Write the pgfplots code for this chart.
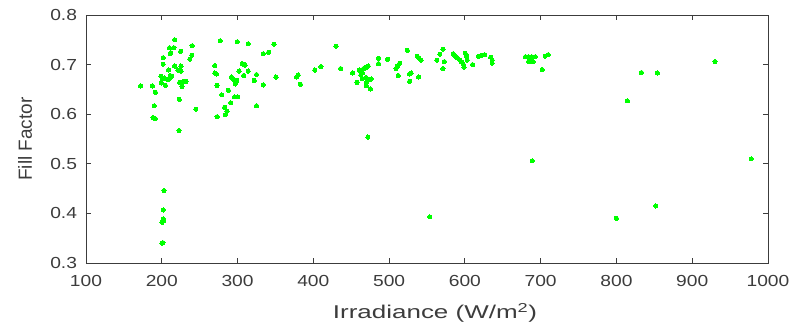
\documentclass[border=0pt]{standalone}
\usepackage{fontspec}
\setmainfont{Liberation Sans}[FakeStretch=1.2]
\newfontfamily\plainsans{Liberation Sans}
\usepackage{graphicx}
\usepackage{pgfplots}
\pgfplotsset{compat=1.18}
\definecolor{axgray}{RGB}{60,60,60}
\definecolor{dotgreen}{RGB}{0,255,0}
\begin{document}
\begin{tikzpicture}
\begin{axis}[
  scale only axis,
  width=682bp, height=248bp,
  xmin=100, xmax=1000, ymin=0.3, ymax=0.8,
  xtick={100,200,...,1000},
  ytick={0.3,0.4,0.5,0.6,0.7,0.8},
  yticklabels={0.3,0.4,0.5,0.6,0.7,0.8},
  /pgf/number format/1000 sep={},
  tick align=inside,
  major tick length=5bp,
  axis line style={axgray, line width=0.8bp},
  every tick/.style={axgray, line width=0.8bp},
  tick label style={font=\fontsize{16bp}{18bp}\selectfont, text=axgray},
  xticklabel style={yshift=-8.5bp},
  yticklabel style={xshift=-5.5bp},
  /pgf/number format/assume math mode=true,
  every axis x label/.style={at={(rel axis cs:0.5,0)}, anchor=center, yshift=-50bp, xshift=8bp,
    font=\fontsize{18.5bp}{21bp}\selectfont, text=axgray},
  every axis y label/.style={at={(rel axis cs:0,0.5)}, anchor=center, rotate=90, yshift=61bp,
    font=\plainsans\fontsize{19bp}{21bp}\selectfont, text=axgray},
  xlabel={\scalebox{1.17}[1]{Irradiance (W/m\textsuperscript{2})}},
  ylabel={Fill Factor},
]
\addplot[only marks, mark=*, mark size=2.1bp, mark options={fill=dotgreen, draw=dotgreen, line width=0pt}] coordinates {
(172,0.657) (187.6,0.657) (191.6,0.644) (190,0.617) (188.4,0.593) (191.6,0.591)
(201.8,0.714) (201.8,0.701)
(199.1,0.6765) (200.9,0.671) (199.6,0.663) (204.9,0.658) (203.1,0.673) (208,0.670)
(211.1,0.678) (210.2,0.6725) (213.3,0.6765)
(217,0.750) (210.2,0.734) (216,0.734) (212,0.724) (211.1,0.722)
(216.9,0.697) (208.9,0.689) (221.3,0.689) (225.3,0.697) (225.3,0.687)
(225,0.727) (223.6,0.664) (226.7,0.656) (228.9,0.666) (232,0.666)
(223,0.630) (222.7,0.567) (240,0.738) (239.6,0.719) (237,0.711) (245,0.610)
(203,0.446) (202,0.407) (201.8,0.389) (202.7,0.385) (200.4,0.382) (200.4,0.340) (201.5,0.341)
(277,0.748) (270,0.698) (270,0.683) (272,0.681) (273,0.658) (279,0.639) (288,0.648)
(283,0.614) (286,0.606) (284,0.599) (273,0.595) (291,0.623) (296,0.635) (300,0.635)
(292,0.675) (294,0.671) (298,0.665) (297,0.661) (299,0.668)
(299.6,0.746) (314,0.742) (302,0.687) (306,0.702) (309,0.700) (310,0.699) (308,0.678)
(314,0.687) (322,0.668) (325,0.680) (325,0.617) (334,0.722) (341,0.725) (348,0.741)
(350.7,0.675) (334,0.659) (380,0.679) (378,0.675) (383,0.660) (402,0.689) (410,0.696)
(430,0.737) (436,0.692)
(451.8,0.683) (457.5,0.664) (460.5,0.689) (462.7,0.679) (464.9,0.683) (466.2,0.692)
(468,0.693) (470.6,0.695) (472.4,0.697) (464.5,0.672) (469.7,0.674) (470.6,0.666)
(475,0.670) (476.3,0.671) (469.7,0.658) (475.4,0.651) (472,0.554)
(486,0.713) (486,0.702) (498,0.711) (509,0.692) (511,0.697) (514,0.703) (512,0.678)
(524,0.729) (527,0.681) (529,0.683) (527,0.666) (539,0.675) (537,0.717) (539,0.714)
(542,0.709) (553.5,0.393) (563,0.709) (567,0.721) (571,0.731) (573,0.706) (571,0.692)
(584.6,0.722) (586.8,0.717) (589.9,0.714) (593.4,0.709) (595.6,0.705) (597.8,0.701)
(598.7,0.695) (600.4,0.723) (602.2,0.717) (603.1,0.709) (610.1,0.700)
(618,0.717) (622,0.719) (626,0.720) (634,0.715) (636,0.709) (636,0.703)
(680,0.716) (684,0.716) (688,0.716) (693,0.716) (686,0.711) (686,0.706) (690,0.706) (684,0.706)
(689,0.506) (702,0.690) (706,0.717) (710,0.720)
(833,0.684) (854,0.683) (814.5,0.627) (930,0.706) (978,0.510) (852,0.415) (800,0.390)
};
\end{axis}
\path (current axis.south west) ++(-86bp,-63bp) rectangle ++(798bp,326bp);
\end{tikzpicture}
\end{document}
